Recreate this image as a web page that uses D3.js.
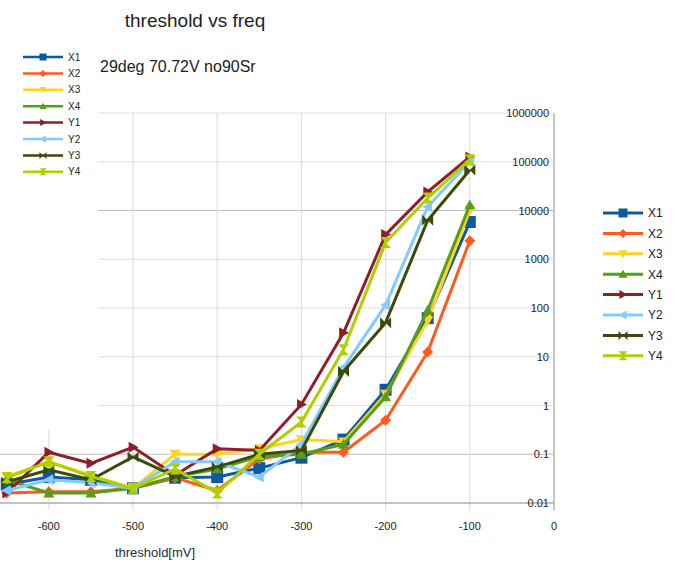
<!DOCTYPE html>
<meta charset="utf-8">
<script src="https://d3js.org/d3.v7.min.js"></script>
<style>
  body { margin: 0; background: #fff; }
  text { font-family: "Liberation Sans", Arial, sans-serif; }
</style>
<div id="chart"></div>
<script>
  // threshold values (mV)
  var thresholds = [-650, -600, -550, -500, -450, -400, -350, -300, -250, -200, -150, -100];
  var seriesNames = ["X1", "X2", "X3", "X4", "Y1", "Y2", "Y3", "Y4"];
  var seriesColors = ["#0e5aa0", "#ff5a1e", "#ffd320", "#579d1c", "#8e1e2c", "#83caff", "#3a4a0a", "#aecf00"];
  var seriesShapes = ["square", "diamond", "down", "up", "right", "left", "bowtie", "hourglass"];

  // frequency values
  var X1 = [0.024, 0.034, 0.03, 0.02, 0.033, 0.034, 0.052, 0.085, 0.2, 2.1, 62, 5800];
  var X2 = [0.016, 0.017, 0.017, 0.02, 0.033, 0.018, 0.08, 0.11, 0.11, 0.5, 12.5, 2400];
  var X3 = [0.035, 0.07, 0.037, 0.02, 0.1, 0.1, 0.13, 0.2, 0.18, 1.7, 55, 10000];
  var X4 = [0.03, 0.016, 0.016, 0.02, 0.035, 0.05, 0.09, 0.1, 0.16, 1.5, 90, 13000];
  var Y1 = [0.016, 0.11, 0.065, 0.14, 0.037, 0.13, 0.12, 1.05, 31, 3200, 24000, 125000];
  var Y2 = [0.018, 0.03, 0.026, 0.02, 0.07, 0.07, 0.034, 0.16, 6, 115, 12000, 100000];
  var Y3 = [0.027, 0.048, 0.03, 0.088, 0.035, 0.055, 0.1, 0.12, 5, 50, 6300, 68000];
  var Y4 = [0.033, 0.07, 0.035, 0.02, 0.05, 0.016, 0.1, 0.46, 14, 2200, 18000, 110000];
  var seriesValues = [X1, X2, X3, X4, Y1, Y2, Y3, Y4];

  var yTicks = [0.01, 0.1, 1, 10, 100, 1000, 10000, 100000, 1000000];
  var yTickLabels = ["0.01", "0.1", "1", "10", "100", "1000", "10000", "100000", "1000000"];
  var xTicks = [-600, -500, -400, -300, -200, -100, 0];

  var W = 679, H = 570;
  var svg = d3.select("#chart").append("svg")
    .attr("width", W).attr("height", H);

  var x = d3.scaleLinear().domain([-658, 0]).range([0, 554]);
  var y = d3.scaleLog().domain([0.01, 1000000]).range([503, 113]);

  // shape paths centred on 0,0
  function shapePath(kind, s) {
    switch (kind) {
      case "square": return "M" + -s + "," + -s + "H" + s + "V" + s + "H" + -s + "Z";
      case "diamond": return "M0," + -s + "L" + s + ",0L0," + s + "L" + -s + ",0Z";
      case "down": return "M" + -s + "," + (-s * 0.8) + "L" + s + "," + (-s * 0.8) + "L0," + s + "Z";
      case "up": return "M" + -s + "," + (s * 0.8) + "L" + s + "," + (s * 0.8) + "L0," + -s + "Z";
      case "right": return "M" + (-s * 0.8) + "," + -s + "L" + (-s * 0.8) + "," + s + "L" + s + ",0Z";
      case "left": return "M" + (s * 0.8) + "," + -s + "L" + (s * 0.8) + "," + s + "L" + -s + ",0Z";
      case "bowtie": return "M" + -s + "," + -s + "L" + s + "," + s + "L" + s + "," + -s + "L" + -s + "," + s + "Z";
      case "hourglass": return "M" + -s + "," + -s + "L" + s + "," + -s + "L" + -s + "," + s + "L" + s + "," + s + "Z";
    }
  }

  // title
  svg.append("text").attr("x", 195).attr("y", 27).attr("text-anchor", "middle")
    .attr("font-size", 19).attr("fill", "#222").text("threshold vs freq");
  svg.append("text").attr("x", 100).attr("y", 72)
    .attr("font-size", 16).attr("fill", "#222").text("29deg 70.72V no90Sr");

  // grid
  var grid = svg.append("g");
  grid.selectAll("line.h").data(yTicks).join("line")
    .attr("x1", 0).attr("x2", 554)
    .attr("y1", function (d) { return y(d); }).attr("y2", function (d) { return y(d); })
    .attr("stroke", function (d) { return (d === 10000 || d === 0.1) ? "#bdbdbd" : "#e0e0e0"; })
    .attr("stroke-width", 1.2);
  grid.selectAll("line.v").data(xTicks.slice(0, -1)).join("line")
    .attr("x1", function (d) { return x(d); }).attr("x2", function (d) { return x(d); })
    .attr("y1", 113).attr("y2", 510)
    .attr("stroke", "#e0e0e0").attr("stroke-width", 1.2);

  // axes
  svg.append("line").attr("x1", 0).attr("x2", 554).attr("y1", 503).attr("y2", 503)
    .attr("stroke", "#b3b3b3").attr("stroke-width", 1.5);
  svg.append("line").attr("x1", 554).attr("x2", 554).attr("y1", 113).attr("y2", 510)
    .attr("stroke", "#b3b3b3").attr("stroke-width", 1.5);

  svg.append("g").selectAll("text").data(yTicks).join("text")
    .attr("x", 549).attr("y", function (d) { return y(d) + 4; })
    .attr("text-anchor", "end").attr("font-size", 11).attr("fill", "#222")
    .text(function (d, i) { return yTickLabels[i]; });
  svg.append("g").selectAll("text").data(xTicks).join("text")
    .attr("x", function (d) { return x(d); }).attr("y", 530)
    .attr("text-anchor", "middle").attr("font-size", 11).attr("fill", "#222")
    .text(function (d) { return d; });
  svg.append("text").attr("x", 155).attr("y", 557).attr("text-anchor", "middle")
    .attr("font-size", 13).attr("fill", "#1d2b48").text("threshold[mV]");

  // data
  svg.append("clipPath").attr("id", "clip").append("rect")
    .attr("x", 0).attr("y", 100).attr("width", 560).attr("height", 410);
  var plot = svg.append("g").attr("clip-path", "url(#clip)");
  var line = d3.line()
    .x(function (d) { return x(d[0]); })
    .y(function (d) { return y(d[1]); });

  seriesValues.forEach(function (vals, i) {
    var pts = thresholds.map(function (t, j) { return [t, vals[j]]; });
    plot.append("path").datum(pts)
      .attr("fill", "none").attr("stroke", seriesColors[i]).attr("stroke-width", 3)
      .attr("d", line);
    plot.selectAll(null).data(pts).join("path")
      .attr("transform", function (d) { return "translate(" + x(d[0]) + "," + y(d[1]) + ")"; })
      .attr("d", shapePath(seriesShapes[i], seriesShapes[i] === "square" ? 6 : 5.5))
      .attr("fill", seriesColors[i]);
  });

  // white box covering top-left corner, holding the first legend
  svg.append("rect").attr("x", 0).attr("y", 35).attr("width", 98).attr("height", 395).attr("fill", "#fff");

  function legend(x0, y0, step, len, fs, sw, ms) {
    var g = svg.append("g");
    seriesNames.forEach(function (name, i) {
      var yy = y0 + i * step;
      g.append("line").attr("x1", x0).attr("x2", x0 + len).attr("y1", yy).attr("y2", yy)
        .attr("stroke", seriesColors[i]).attr("stroke-width", sw);
      g.append("path").attr("transform", "translate(" + (x0 + len / 2) + "," + yy + ")")
        .attr("d", shapePath(seriesShapes[i], ms)).attr("fill", seriesColors[i]);
      g.append("text").attr("x", x0 + len + 5).attr("y", yy + fs * 0.36)
        .attr("font-size", fs).attr("fill", "#222").text(name);
    });
  }
  legend(23, 57, 16.4, 40, 10, 2.5, 3.5);
  legend(603, 213, 20.4, 40, 12, 3, 4.5);
</script>
